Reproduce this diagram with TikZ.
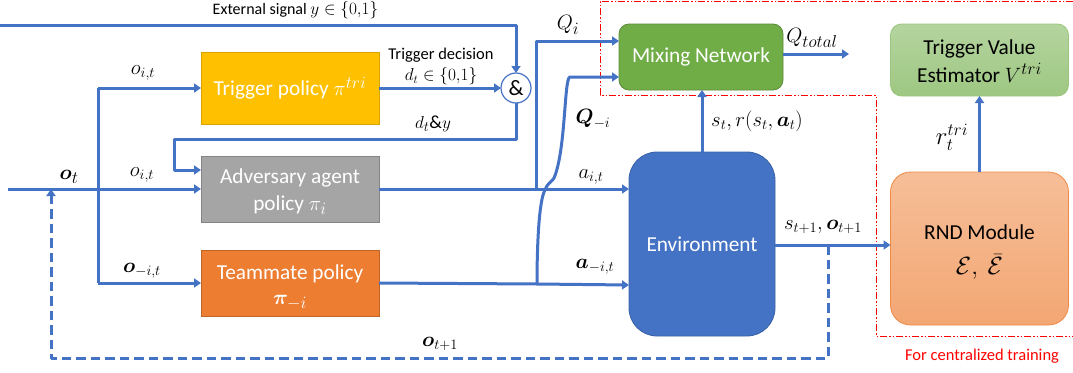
\documentclass[tikz,border=0pt]{standalone}
\usepackage{amsmath,bm}
\usepackage{fontspec}
\setmainfont{Carlito}
\usetikzlibrary{arrows.meta,shapes.geometric}
\DeclareMathSizes{16}{16}{12}{10}
\DeclareMathSizes{16.5}{16.5}{12.5}{10}
\DeclareMathSizes{18.5}{18.5}{14}{11}
\DeclareMathSizes{20}{20}{15}{12}
\DeclareMathSizes{21}{21}{15.5}{12.5}
\DeclareMathSizes{21.3}{21.3}{16}{13}
\DeclareMathSizes{22}{22}{16.5}{13}
\DeclareMathSizes{24}{24}{18}{14}
\definecolor{lineblue}{HTML}{4472C4}
\definecolor{mixgreen}{HTML}{70AD47}
\definecolor{gold}{HTML}{FFC000}
\definecolor{midgray}{HTML}{A5A5A5}
\definecolor{orng}{HTML}{ED7D31}
\tikzset{
  every node/.style={inner sep=0pt,outer sep=0pt,align=center},
  conn/.style={draw=lineblue,line width=3pt,line join=round},
  arr/.style={conn,-{Triangle[length=7pt,width=9pt]}},
  dashconn/.style={conn,dash pattern=on 9.5pt off 5pt},
  policybox/.style={minimum width=178pt,minimum height=72pt,line width=0.8pt,font=\fontsize{21.3}{25}\selectfont,text=white},
  lab/.style={font=\fontsize{21}{22}\selectfont,text=black},
  smalllab/.style={font=\fontsize{16.5}{21}\selectfont,text=black},
  redline/.style={draw=red,line width=1pt,dash pattern=on 7pt off 2pt on 1.5pt off 2pt on 1.5pt off 2pt},
}
\begin{document}
\begin{tikzpicture}[x=1pt,y=-1pt]
\useasboundingbox (0,0) rectangle (1073,372);
% red frame
\coordinate (r0) at (1073,1);
\coordinate (r1) at (600,1);
\coordinate (r2) at (600,95);
\coordinate (r3) at (876,95);
\coordinate (r4) at (876,336);
\coordinate (r5) at (1073,336);
\draw[redline] (r0) -- (r1) -- (r2) -- (r3) -- (r4) -- (r5);
% boxes
\node[policybox,draw=gold!85!black,fill=gold] (trig) at (290,88) {Trigger policy $\pi^{tri}$};
\node[policybox,minimum height=66pt,draw=midgray!80!black,fill=midgray] (adv) at (290,189) {\rule{0pt}{20pt}Adversary agent\\[2pt]policy $\pi_i$};
\node[policybox,minimum height=66pt,draw=orng!80!black,fill=orng] (team) at (290,283) {\rule{0pt}{23pt}Teammate policy\\[0pt]$\bm{\pi}_{-i}$};
\node[policybox,minimum width=164pt,minimum height=66pt,rounded corners=10pt,draw=mixgreen!80!black,fill=mixgreen] (mix) at (701,57) {\raisebox{-2pt}{Mixing Network}};
\node[policybox,rounded corners=11pt,draw=mixgreen!70!white,top color=mixgreen!52!white,bottom color=mixgreen!68!white,text=black] (tve) at (979.5,60) {\rule{0pt}{17pt}Trigger Value\\[3pt]Estimator $V^{tri}$};
\node[policybox,minimum height=153pt,rounded corners=20pt,draw=orng!90!white,top color=orng!50!white,bottom color=orng!68!white,text=black] (rnd) at (979.5,248.5) {\rule{0pt}{22pt}RND Module\\[10pt]{\fontsize{24}{26}\selectfont$\mathcal{E},\ \bar{\mathcal{E}}$}};
\node[policybox,minimum width=146pt,minimum height=184pt,rounded corners=28pt,draw=lineblue!85!black,fill=lineblue] (env) at (702,244) {\raisebox{-1pt}{Environment}};
\node[circle,draw=lineblue,fill=white,line width=1.2pt,minimum size=30pt,font=\fontsize{22}{24}\selectfont] (and) at (516,88) {\&};
% free ends
\coordinate (ext) at (0,25);
\coordinate (obs) at (8,189);
\coordinate (qout) at (849,54);
\coordinate (splt) at (98,88);
\coordinate (splb) at (98,283);
\coordinate (bq) at (536,189);
\coordinate (bqt) at (536,41);
\coordinate (bn) at (537,284);
\coordinate (bnt) at (570,77);
\coordinate (ret) at (174,139);
\coordinate (retb) at (174,170);
\coordinate (retr) at (516,139);
\coordinate (dt) at (828,245);
\coordinate (db) at (828,358);
\coordinate (dl) at (51,358);
\coordinate (du) at (51,195);
% connectors
\draw[arr] (ext) -- (516,25) -- (and.north);
\draw[arr] (trig.east) -- (and.west);
\draw[arr] (and.south) -- (retr) -- (ret) -- (retb) -- (adv.west |- retb);
\draw[arr] (obs) -- (adv.west);
\draw[arr] (splt) -- (trig.west);
\draw[conn] (splt) -- (splb);
\draw[arr] (splb) -- (team.west);
\draw[arr] (adv.east) -- (env.west |- adv.east);
\draw[arr] (bq) -- (bqt) -- (mix.west |- bqt);
\draw[arr] (team.east) -- (bn) -- (env.west |- 0,285);
\draw[arr] (bn) .. controls (537,245) and (539,200) .. (545,190) .. controls (548,182) and (552,182) .. (554,178) .. controls (566,150) and (564,77) .. (bnt) -- (mix.west |- bnt);
\draw[arr] (env.north -| 702,0) -- (mix.south -| 702,0);
\draw[arr] (mix.east |- qout) -- (qout);
\draw[arr] (rnd.north) -- (tve.south);
\draw[arr] (env.east |- dt) -- (rnd.west |- dt);
\draw[dashconn] (dt) -- (db) -- (dl) -- (du);
\draw[arr] (du) -- (51,189);
% labels
\node[smalllab,font=\fontsize{16}{19}\selectfont] (l1) at (295.5,10.5) {External signal $y\in\{0{,}1\}$};
\node[smalllab] (l2) at (441,66.5) {Trigger decision\\$d_t\in\{0{,}1\}$};
\node[smalllab,font=\fontsize{18.5}{20}\selectfont] (l3) at (433,124) {$d_t\&y$};
\node[lab,font=\fontsize{22}{22}\selectfont] (l4) at (568,25) {$Q_i$};
\node[lab] (l5) at (593,119) {$\bm{Q}_{-i}$};
\node[lab] (l6) at (591,177) {$a_{i,t}$};
\node[lab] (l7) at (595,267) {$\bm{a}_{-i,t}$};
\node[lab,font=\fontsize{22}{22}\selectfont] (l8) at (812,38) {$Q_{total}$};
\node[lab,font=\fontsize{20}{20}\selectfont] (l9) at (757,121) {$s_t,r(s_t,\bm{a}_t)$};
\node[lab,font=\fontsize{24}{24}\selectfont] (l10) at (952,137) {$r_t^{tri}$};
\node[lab] (l11) at (823,227) {$s_{t+1},\bm{o}_{t+1}$};
\node[lab] (l12) at (143,73) {$o_{i,t}$};
\node[lab] (l13) at (142,175) {$o_{i,t}$};
\node[lab] (l14) at (142,271) {$\bm{o}_{-i,t}$};
\node[lab,font=\fontsize{22}{22}\selectfont] (l15) at (69,177) {$\bm{o}_t$};
\node[lab] (l16) at (440,344) {$\bm{o}_{t+1}$};
\node[smalllab,text=red] (l17) at (982,356) {For centralized training};
\end{tikzpicture}
\end{document}
